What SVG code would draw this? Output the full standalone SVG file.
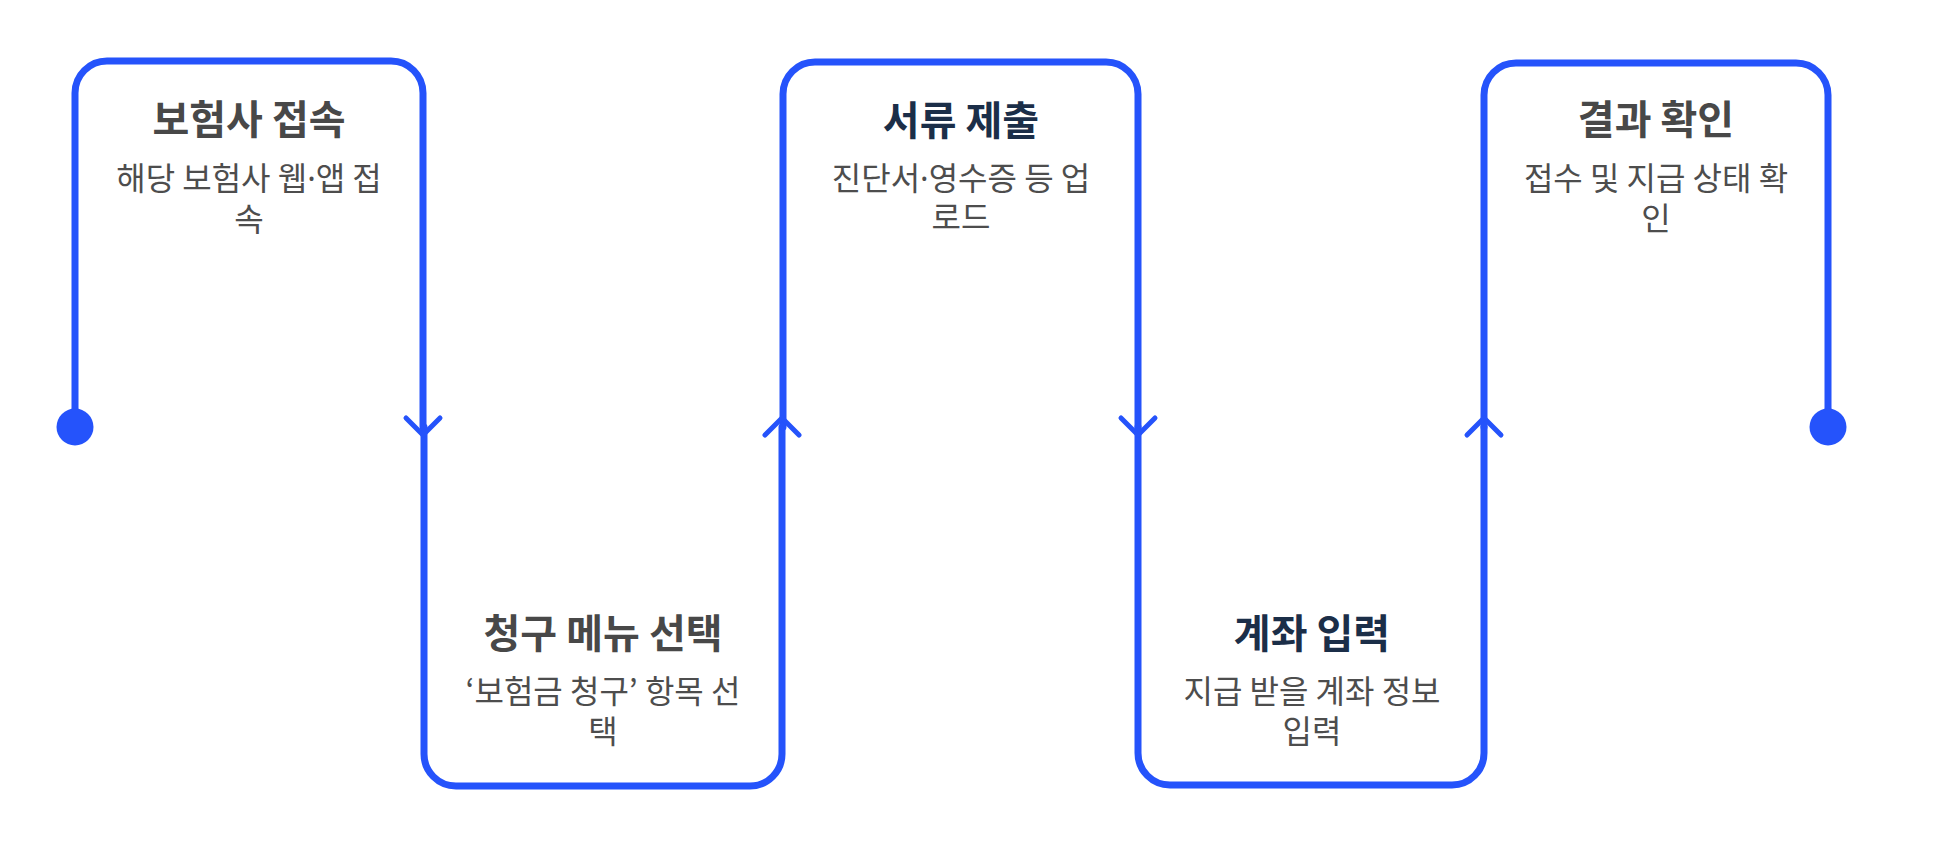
<svg xmlns="http://www.w3.org/2000/svg" width="1937" height="847" viewBox="0 0 1937 847">
<style>
.box{fill:none;stroke:#2553fb;stroke-width:7;stroke-linecap:round;stroke-linejoin:round}
.arr{fill:none;stroke:#2553fb;stroke-width:5;stroke-linecap:round;stroke-linejoin:round}
.dot{fill:#2553fb}
.t{font-family:"Noto Sans CJK KR","Noto Sans",sans-serif;font-size:40px;font-weight:700;text-anchor:middle}
.g{fill:#484848}
.n{fill:#1b2e48}
.s{font-family:"Noto Sans CJK KR","Noto Sans",sans-serif;font-size:32px;fill:#4d4d4d;text-anchor:middle}
.md{font-family:"Noto Sans","Liberation Sans",sans-serif}
</style>
<rect width="1937" height="847" fill="#ffffff"/>
<g id="step1">
<path class="box" d="M75,427 V93 A32,32 0 0 1 107,61 H391 A32,32 0 0 1 423,93 V427"/>
<text class="t g" x="249" y="134">보험사 접속</text>
<text class="s" x="249" y="190">해당 보험사 웹<tspan class="md">·</tspan>앱 접<tspan x="249" dy="41">속</tspan></text>
</g>
<g id="step2">
<path class="box" d="M424,427 V754 A32,32 0 0 0 456,786 H750 A32,32 0 0 0 782,754 V427"/>
<text class="t g" x="603" y="648">청구 메뉴 선택</text>
<text class="s" x="603" y="703">‘보험금 청구’ 항목 선<tspan x="603" dy="40">택</tspan></text>
</g>
<g id="step3">
<path class="box" d="M783,427 V94 A32,32 0 0 1 815,62 H1106 A32,32 0 0 1 1138,94 V427"/>
<text class="t n" x="961" y="135">서류 제출</text>
<text class="s" x="961" y="190">진단서<tspan class="md">·</tspan>영수증 등 업<tspan x="961" dy="39">로드</tspan></text>
</g>
<g id="step4">
<path class="box" d="M1138,427 V753 A32,32 0 0 0 1170,785 H1452 A32,32 0 0 0 1484,753 V427"/>
<text class="t n" x="1312" y="648">계좌 입력</text>
<text class="s" x="1312" y="703">지급 받을 계좌 정보<tspan x="1312" dy="40">입력</tspan></text>
</g>
<g id="step5">
<path class="box" d="M1484,427 V95 A32,32 0 0 1 1516,63 H1796 A32,32 0 0 1 1828,95 V427"/>
<text class="t g" x="1656" y="134">결과 확인</text>
<text class="s" x="1656" y="190">접수 및 지급 상태 확<tspan x="1656" dy="40">인</tspan></text>
</g>
<g id="connectors">
<circle class="dot" cx="75" cy="427" r="18.5"/>
<circle class="dot" cx="1828" cy="427" r="18.5"/>
<path class="arr" d="M406,418 L423,435 L440,418"/>
<path class="arr" d="M765,435 L782,418 L799,435"/>
<path class="arr" d="M1121,418 L1138,435 L1155,418"/>
<path class="arr" d="M1467,435 L1484,418 L1501,435"/>
</g>
</svg>
